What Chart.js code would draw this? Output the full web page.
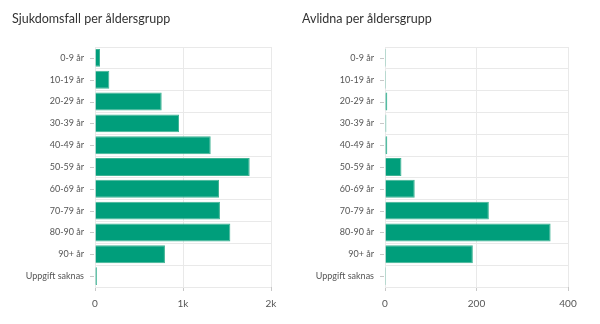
<!DOCTYPE html>
<html>
<head>
<meta charset="utf-8">
<script src="https://cdn.jsdelivr.net/npm/chart.js@4"></script>
<style>
    body { margin: 0; background: #fff; }
    #wrap { position: relative; width: 600px; height: 324px; }
    #c1 { position: absolute; left: 0; top: 0; }
    #c2 { position: absolute; left: 290px; top: 0; }
</style>
</head>
<body>
<div id="wrap">
    <canvas id="c1" width="290" height="324"></canvas>
    <canvas id="c2" width="310" height="324"></canvas>
</div>
<script>
var categories = ["0-9 år", "10-19 år", "20-29 år", "30-39 år", "40-49 år", "50-59 år",
    "60-69 år", "70-79 år", "80-90 år", "90+ år", "Uppgift saknas"];
var caseValues = [57, 163, 758, 955, 1315, 1758, 1409, 1420, 1538, 795, 22];
var deathValues = [1, 1, 5, 3, 5, 36, 65, 227, 362, 192, 1];
var caseTicks = [0, 1000, 2000];
var caseTickLabels = ["0", "1k", "2k"];
var deathTicks = [0, 200, 400];
var deathTickLabels = ["0", "200", "400"];

var barColor = '#009e7b';
var gridColor = '#e9e9e9';

// small dashes at the middle of each category, left of the plot
var catTicks = {
    id: 'catTicks',
    afterDraw: function (chart) {
        var ctx = chart.ctx;
        var y = chart.scales.y;
        ctx.save();
        ctx.strokeStyle = '#c8c8c8';
        ctx.lineWidth = 1;
        for (var i = 0; i < chart.data.labels.length; i++) {
            var py = Math.round(y.getPixelForValue(i)) + 0.5;
            ctx.beginPath();
            ctx.moveTo(y.right - 5, py);
            ctx.lineTo(y.right - 1, py);
            ctx.stroke();
        }
        ctx.restore();
    }
};

function makeChart(id, title, values, max, ticks, tickLabels, padRight) {
    return new Chart(document.getElementById(id), {
        type: 'bar',
        data: {
            labels: categories,
            datasets: [{
                data: values,
                backgroundColor: barColor,
                borderColor: '#3fb393',
                borderWidth: 1,
                minBarLength: 1,
                barPercentage: 0.82,
                categoryPercentage: 1
            }]
        },
        options: {
            indexAxis: 'y',
            responsive: false,
            animation: false,
            layout: {padding: {left: 12, right: padRight, top: 0, bottom: 0}},
            plugins: {
                legend: {display: false},
                tooltip: {enabled: false},
                title: {
                    display: true,
                    text: title,
                    align: 'start',
                    color: '#333',
                    font: {family: 'Lato', size: 12.5, weight: 'normal'},
                    padding: {top: 11, bottom: 21}
                }
            },
            scales: {
                x: {
                    min: 0,
                    max: max,
                    afterBuildTicks: function (scale) {
                        scale.ticks = ticks.map(function (v) { return {value: v}; });
                    },
                    afterFit: function (scale) { scale.height = 37; },
                    grid: {color: gridColor, tickLength: 4, tickColor: '#c8c8c8'},
                    border: {display: false},
                    ticks: {
                        color: '#555',
                        font: {family: 'Lato', size: 10},
                        padding: 7,
                        maxRotation: 0,
                        callback: function (v) {
                            var i = ticks.indexOf(v);
                            return i >= 0 ? tickLabels[i] : '';
                        }
                    }
                },
                y: {
                    afterFit: function (scale) { scale.width = 83; },
                    grid: {color: gridColor, offset: true, drawTicks: false},
                    border: {color: gridColor},
                    ticks: {
                        color: '#555',
                        font: {family: 'Lato', size: 9},
                        padding: 11,
                        autoSkip: false
                    }
                }
            }
        },
        plugins: [catTicks]
    });
}

makeChart('c1', 'Sjukdomsfall per åldersgrupp', caseValues, 2000, caseTicks, caseTickLabels, 19);
makeChart('c2', 'Avlidna per åldersgrupp', deathValues, 400, deathTicks, deathTickLabels, 32);
</script>
</body>
</html>
